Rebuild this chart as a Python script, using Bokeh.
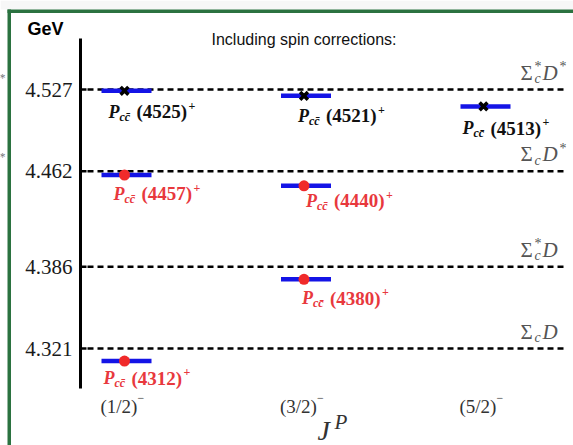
from bokeh.plotting import figure
from bokeh.models import Range1d, ColumnDataSource
from bokeh.core.properties import value
from bokeh.embed import file_html
from bokeh.resources import INLINE

# ---------------- data ----------------
jp_pos = [1, 2, 3]
jp_labels = ["(1/2)", "(3/2)", "(5/2)"]

thresholds = [4.527, 4.462, 4.386, 4.321]
tick_labels = ["4.527", "4.462", "4.386", "4.321"]
threshold_labels = ["Σc* D*", "Σc D*", "Σc* D", "Σc D"]

black_col = [1, 2, 3]
black_mass = [4.526, 4.522, 4.5135]
black_names = ["(4525)", "(4521)", "(4513)"]

red_col = [1, 2, 2, 1]
red_mass = [4.459, 4.4504, 4.376, 4.311]
red_names = ["(4457)", "(4440)", "(4380)", "(4312)"]

# label placement (pixels, relative to the level)
black_dx = [-16, -6, -21]
black_dy = [21, 20, 22]
red_dx = [-11, 2, -2, -21]
red_dy = [19, 15, 19, 17]

# ---------------- layout helpers ----------------
W, H = 573, 445
X0, XS = 124.0, 179.5          # pixel of column 1, pixels per column
Y0, YS = 89.0, 259.0 / 0.206   # pixel of 4.527, pixels per GeV


def X(px):
    return 1 + (px - X0) / XS


def Y(py):
    return 4.527 - (py - Y0) / YS


p = figure(width=W, height=H, x_range=Range1d(X(0), X(W)), y_range=Range1d(Y(H), Y(0)),
           output_backend="svg", toolbar_location=None, x_axis_type=None, y_axis_type=None,
           min_border=0, outline_line_color=None, background_fill_color="white",
           border_fill_color="white")
p.grid.visible = False

SERIF = value("Liberation Serif")
SANS = value("Liberation Sans")
GREY = "#555555"

# green frame
p.quad(left=[X(0)], right=[X(W)], top=[Y(0)], bottom=[Y(9)], fill_color="#f7f7f7", line_color=None)
p.quad(left=[X(7)], right=[X(W)], top=[Y(9)], bottom=[Y(12.5)], fill_color="#2b7240", line_color=None)
p.quad(left=[X(7)], right=[X(10.5)], top=[Y(9)], bottom=[Y(H)], fill_color="#2b7240", line_color=None)

# vertical axis line and ticks
p.segment(x0=[X(80)], y0=[Y(38)], x1=[X(80)], y1=[Y(388)], line_color="black", line_width=3)
p.segment(x0=[X(80)] * 4, y0=thresholds, x1=[X(86)] * 4, y1=thresholds, line_color="black", line_width=2.5)
p.text(x=[X(72)] * 4, y=thresholds, text=tick_labels, text_align="right", text_baseline="middle",
       text_font=SERIF, text_font_size="21px", text_color="#1a1a1a")

# thresholds (dashed)
p.segment(x0=[X(87)] * 4, y0=thresholds, x1=[X(566)] * 4, y1=thresholds, line_color="black",
          line_width=2.5, line_dash="6 4")
tx = [X(566)] * 4
p.text(x=tx, y=thresholds, text=["Σ"] * 4, x_offset=-46, y_offset=-17, text_align="left",
       text_baseline="middle", text_font=SERIF, text_font_size="21px", text_color=GREY)
p.text(x=tx, y=thresholds, text=["c"] * 4, x_offset=-32, y_offset=-11, text_align="left",
       text_baseline="middle", text_font=SERIF, text_font_style="italic", text_font_size="14px",
       text_color=GREY)
p.text(x=tx, y=thresholds, text=["D"] * 4, x_offset=-24, y_offset=-17, text_align="left",
       text_baseline="middle", text_font=SERIF, text_font_style="italic", text_font_size="21px",
       text_color=GREY)
s_star = [t for t, l in zip(thresholds, threshold_labels) if l.startswith("Σc*")]
d_star = [t for t, l in zip(thresholds, threshold_labels) if l.endswith("D*")]
p.text(x=[X(566)] * len(s_star), y=s_star, text=["*"] * len(s_star), x_offset=-32, y_offset=-23,
       text_align="left", text_baseline="middle", text_font=SERIF, text_font_size="14px",
       text_color=GREY)
p.text(x=[X(566)] * len(d_star), y=d_star, text=["*"] * len(d_star), x_offset=-7, y_offset=-23,
       text_align="left", text_baseline="middle", text_font=SERIF, text_font_size="14px",
       text_color=GREY)

# levels
HW = 25 / XS
p.segment(x0=[c - HW + 2 / XS for c in black_col], x1=[c + HW + 2 / XS for c in black_col],
          y0=black_mass, y1=black_mass, line_color="#1414e6", line_width=4.5)
p.segment(x0=[c - HW + 2 / XS for c in red_col], x1=[c + HW + 2 / XS for c in red_col],
          y0=red_mass, y1=red_mass, line_color="#1414e6", line_width=4.5)
p.scatter(x=black_col, y=black_mass, marker="x", size=11, line_width=3.5, line_color="black")
p.scatter(x=red_col, y=red_mass, marker="circle", size=11, fill_color="#f02a2a", line_color=None)


def state_labels(cols, masses, names, dxs, dys, color):
    src = ColumnDataSource(dict(
        x=cols, y=masses, name=names,
        P=["P"] * len(cols), sub=["cc\u0304"] * len(cols), plus=["+"] * len(cols),
        dx0=dxs, dy0=dys,
        dx1=[d + 11 for d in dxs], dy1=[d + 5 for d in dys],
        dx2=[d + 28 for d in dxs],
        dx3=[d + 80 for d in dxs], dy3=[d - 6 for d in dys],
    ))
    p.text(x="x", y="y", text="P", x_offset="dx0", y_offset="dy0", source=src, text_align="left",
           text_baseline="middle", text_font=SERIF, text_font_style="bold italic",
           text_font_size="18px", text_color=color)
    p.text(x="x", y="y", text="sub", x_offset="dx1", y_offset="dy1", source=src, text_align="left",
           text_baseline="middle", text_font=SERIF, text_font_style="bold italic",
           text_font_size="12px", text_color=color)
    p.text(x="x", y="y", text="name", x_offset="dx2", y_offset="dy0", source=src, text_align="left",
           text_baseline="middle", text_font=SERIF, text_font_style="bold",
           text_font_size="19px", text_color=color)
    p.text(x="x", y="y", text="plus", x_offset="dx3", y_offset="dy3", source=src, text_align="left",
           text_baseline="middle", text_font=SERIF, text_font_style="bold",
           text_font_size="12px", text_color=color)


state_labels(black_col, black_mass, black_names, black_dx, black_dy, "#111111")
state_labels(red_col, red_mass, red_names, red_dx, red_dy, "#e8383d")

# J^P axis labels
p.text(x=jp_pos, y=[Y(406)] * 3, text=jp_labels, x_offset=-24, text_align="left",
       text_baseline="middle", text_font=SERIF, text_font_size="19px", text_color="#333333")
p.text(x=jp_pos, y=[Y(406)] * 3, text=["\u2212"] * 3, x_offset=13, y_offset=-9, text_align="left",
       text_baseline="middle", text_font=SERIF, text_font_size="12px", text_color="#333333")
p.text(x=[X(317)], y=[Y(430)], text=["J"], text_align="left", text_baseline="middle",
       text_font=SERIF, text_font_style="italic", text_font_size="28px", text_color="#333333")
p.text(x=[X(334)], y=[Y(421)], text=["P"], text_align="left", text_baseline="middle",
       text_font=SERIF, text_font_style="italic", text_font_size="21px", text_color="#333333")

# titles
p.text(x=[X(27)], y=[Y(28)], text=["GeV"], text_align="left", text_baseline="middle",
       text_font=SANS, text_font_style="bold", text_font_size="18px", text_color="black")
p.text(x=[X(211)], y=[Y(39)], text=["Including spin corrections:"], text_align="left",
       text_baseline="middle", text_font=SANS, text_font_size="16px", text_color="#111111")

# remnants at the left edge
p.text(x=[X(-1)] * 2, y=[Y(77), Y(156)], text=["*", "*"], text_align="left", text_baseline="middle",
       text_font=SERIF, text_font_size="12px", text_color="#777777")

open("out.html", "w").write(file_html(p, INLINE))
